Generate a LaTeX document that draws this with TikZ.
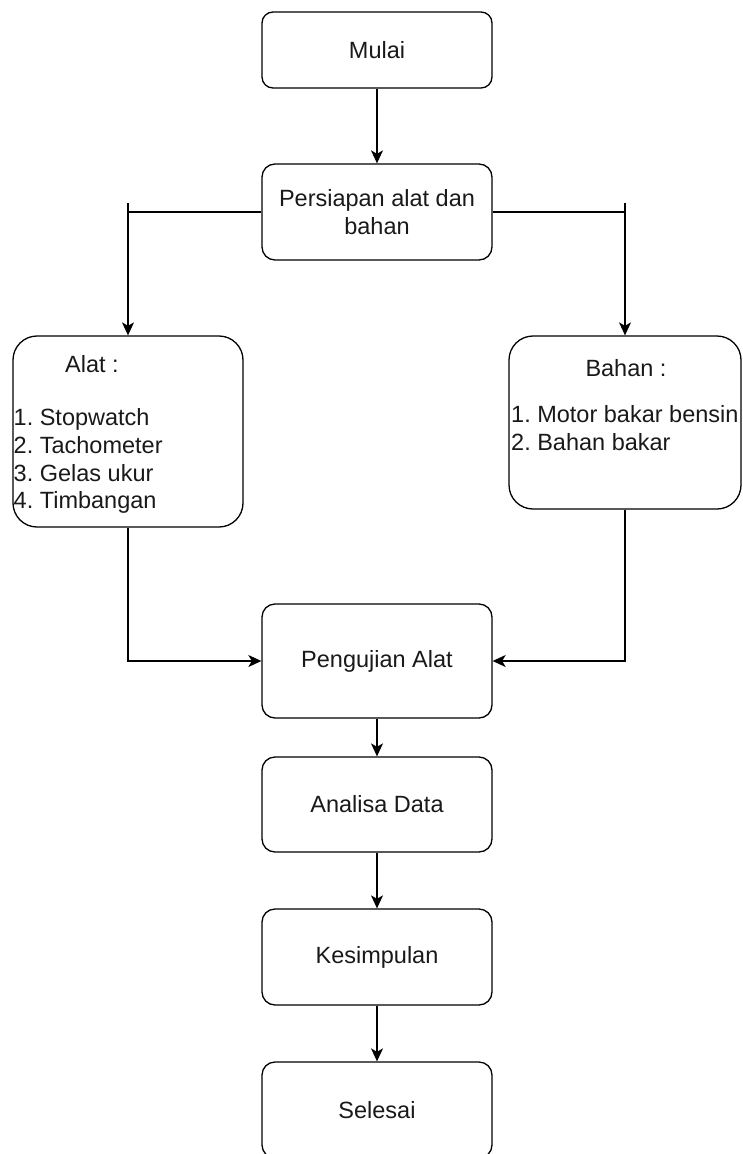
\documentclass[tikz,border=0pt]{standalone}
\usepackage{fontspec}
\setmainfont{Liberation Sans}
\usetikzlibrary{arrows.meta}
\frenchspacing
\begin{document}
\begin{tikzpicture}[x=1pt,y=-1pt,
  lbl/.style={font=\fontsize{23.5}{28.2}\selectfont\frenchspacing, text=black!90},
  box/.style={draw, line width=1.3pt, rounded corners=13pt, inner sep=0pt, align=center, lbl},
  txt/.style={inner sep=0pt, anchor=base west, lbl},
  conn/.style={line width=1.3pt},
  arr/.style={conn, -{Stealth[length=13pt,width=12pt,inset=3.5pt]}}]
\useasboundingbox (0,0) rectangle (742,1154);
\clip (0,0) rectangle (742,1154);
% boxes
\node[box, rounded corners=11pt, minimum width=230pt, minimum height=76pt] (mulai) at (377,50) {Mulai};
\node[box, minimum width=230pt, minimum height=96pt] (pers) at (377,212) {Persiapan alat dan\\bahan};
\node[box, rounded corners=24pt, minimum width=230pt, minimum height=191pt] (alat) at (128,431.5) {};
\node[box, rounded corners=24pt, minimum width=232pt, minimum height=173pt] (bahan) at (625,422.5) {};
\node[box, minimum width=230pt, minimum height=114pt] (uji) at (377,661) {Pengujian Alat};
\node[box, minimum width=230pt, minimum height=95pt] (analisa) at (377,804.5) {Analisa Data};
\node[box, minimum width=230pt, minimum height=96pt] (kes) at (377,957) {Kesimpulan};
\node[box, minimum width=230pt, minimum height=96pt] (selesai) at (377,1110) {Selesai};
% texts of the list boxes
\node[txt] (alatT) at (65,372) {Alat :};
\node[txt] (alat1) at (13.5,425) {1. Stopwatch};
\node[txt] (alat2) at (13.5,453) {2. Tachometer};
\node[txt] (alat3) at (13.5,481) {3. Gelas ukur};
\node[txt] (alat4) at (13.5,508.5) {4. Timbangan};
\node[txt, anchor=base] (bahanT) at (626,376) {Bahan :};
\node[txt] (bahan1) at (511,422) {1. Motor bakar bensin};
\node[txt] (bahan2) at (511,450) {2. Bahan bakar};
% connectors
\coordinate (lt) at (128,203);
\coordinate (rt) at (625,203);
\draw[arr] (mulai) -- (pers);
\draw[conn] (pers.west) -- (pers.west -| alat.north);
\draw[arr] (lt) -- (alat.north);
\draw[conn] (pers.east) -- (pers.east -| bahan.north);
\draw[arr] (rt) -- (bahan.north);
\draw[arr] (alat.south) |- (uji.west);
\draw[arr] (bahan.south) |- (uji.east);
\draw[arr] (uji) -- (analisa);
\draw[arr] (analisa) -- (kes);
\draw[arr] (kes) -- (selesai);
\end{tikzpicture}
\end{document}
